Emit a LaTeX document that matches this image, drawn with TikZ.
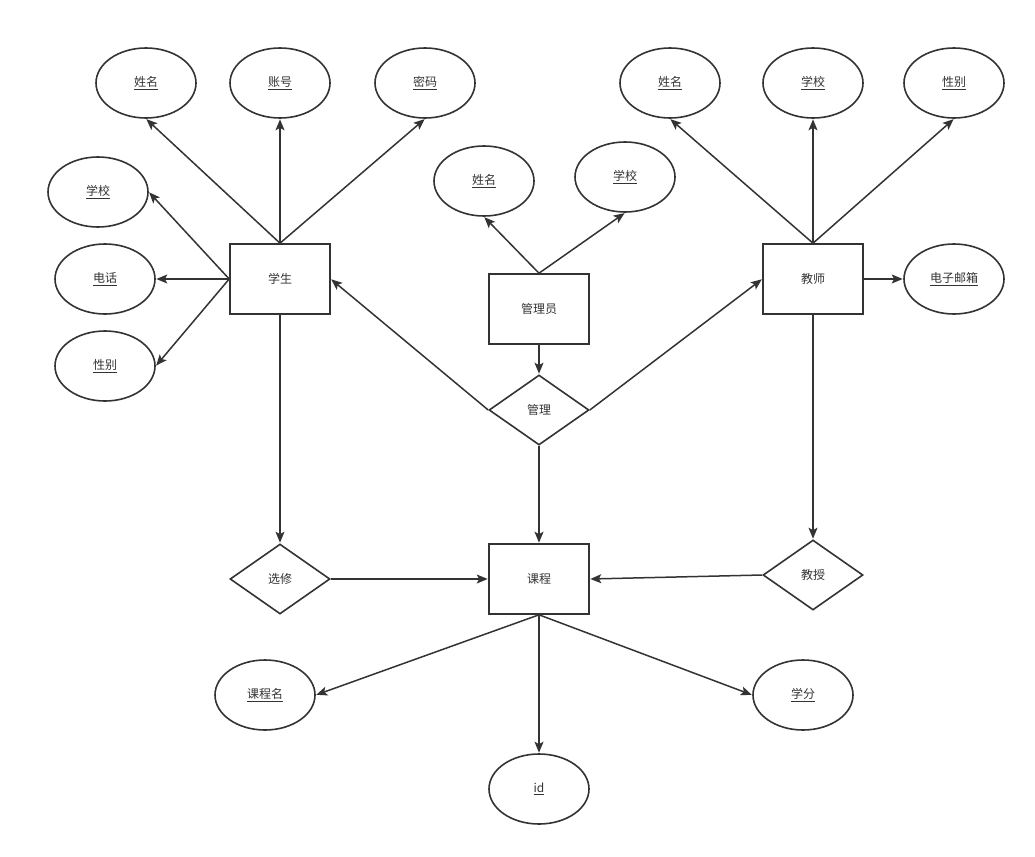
\documentclass[tikz,border=0pt]{standalone}
\usepackage{fontspec}
\setmainfont{Noto Sans CJK SC}
\usetikzlibrary{shapes.geometric,arrows.meta}
\definecolor{ink}{HTML}{333333}
\begin{document}
\begin{tikzpicture}[x=1pt,y=-1pt,
  every node/.style={font=\fontsize{12}{14}\selectfont, text=ink},
  attr/.style={draw=ink, line width=1.6pt, ellipse, minimum width=100pt, minimum height=70pt, inner sep=0pt},
  ent/.style={draw=ink, line width=1.6pt, rectangle, minimum width=100pt, minimum height=70pt, inner sep=0pt},
  rel/.style={draw=ink, line width=1.6pt, diamond, aspect=1.4286, minimum width=100pt, minimum height=70pt, inner sep=0pt},
  conn/.style={draw=ink, line width=1.5pt, shorten >=0.5pt, -{Stealth[length=11pt,width=9pt,inset=2.5pt]}}]
\useasboundingbox (0,0) rectangle (1035,856);
% student
\node[ent] (s) at (280,279) {学生};
\node[attr] (s1) at (146,83) {\underline{姓名}};
\node[attr] (s2) at (280,83) {\underline{账号}};
\node[attr] (s3) at (425,83) {\underline{密码}};
\node[attr] (s4) at (98,192) {\underline{学校}};
\node[attr] (s5) at (105,279) {\underline{电话}};
\node[attr] (s6) at (105,366) {\underline{性别}};
% admin
\node[ent] (a) at (539,309) {管理员};
\node[attr] (a1) at (484,181) {\underline{姓名}};
\node[attr] (a2) at (625,177) {\underline{学校}};
\node[rel] (m) at (539,410) {管理};
% teacher
\node[ent] (t) at (813,279) {教师};
\node[attr] (t1) at (670,83) {\underline{姓名}};
\node[attr] (t2) at (813,83) {\underline{学校}};
\node[attr] (t3) at (954,83) {\underline{性别}};
\node[attr] (t4) at (954,279) {\underline{电子邮箱}};
% bottom
\node[rel] (x) at (280,579) {选修};
\node[ent] (c) at (539,579) {课程};
\node[rel] (j) at (813,575) {教授};
\node[attr] (c1) at (265,695) {\underline{课程名}};
\node[attr] (c2) at (539,789) {\underline{id}};
\node[attr] (c3) at (803,695) {\underline{学分}};
% connectors
\draw[conn] (s.north) -- (s1.south);
\draw[conn] (s.north) -- (s2.south);
\draw[conn] (s.north) -- (s3.south);
\draw[conn] (s.west) -- (s4.east);
\draw[conn] (s.west) -- (s5.east);
\draw[conn] (s.west) -- (s6.east);
\draw[conn] (a.north) -- (a1.south);
\draw[conn] (a.north) -- (a2.south);
\draw[conn] (a.south) -- (m.north);
\draw[conn] (m.west) -- (s.east);
\draw[conn] (m.east) -- (t.west);
\draw[conn] (m.south) -- (c.north);
\draw[conn] (t.north) -- (t1.south);
\draw[conn] (t.north) -- (t2.south);
\draw[conn] (t.north) -- (t3.south);
\draw[conn] (t.east) -- (t4.west);
\draw[conn] (t.south) -- (j.north);
\draw[conn] (j.west) -- (c.east);
\draw[conn] (s.south) -- (x.north);
\draw[conn] (x.east) -- (c.west);
\draw[conn] (c.south) -- (c1.east);
\draw[conn] (c.south) -- (c2.north);
\draw[conn] (c.south) -- (c3.west);
\end{tikzpicture}
\end{document}
